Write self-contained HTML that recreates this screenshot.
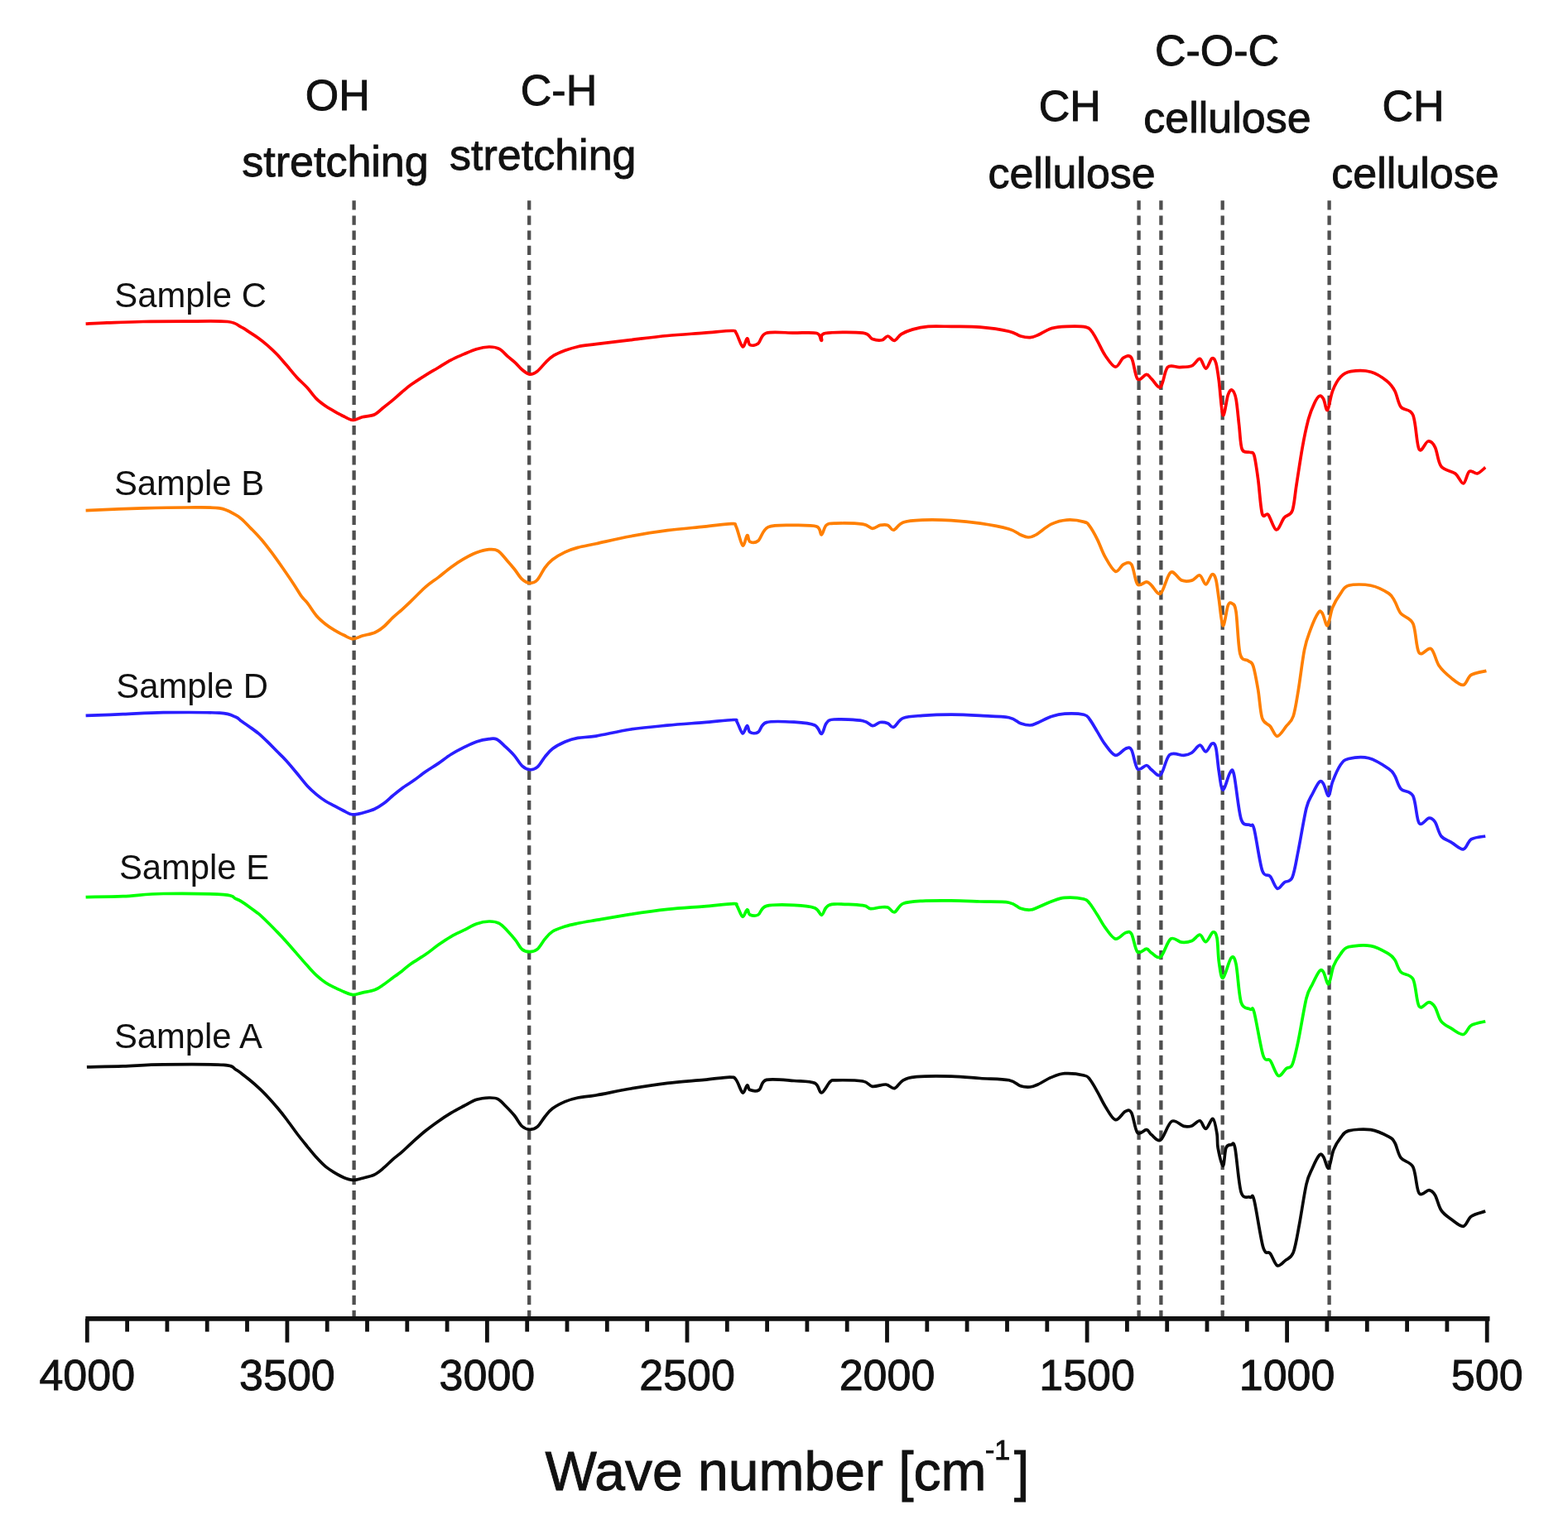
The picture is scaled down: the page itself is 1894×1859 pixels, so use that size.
<!DOCTYPE html>
<html><head><meta charset="utf-8"><title>FTIR spectra</title>
<style>
html,body{margin:0;padding:0;background:#fff;}
body{width:1894px;height:1859px;overflow:hidden;}
svg{display:block;}
text{font-family:"Liberation Sans",Arial,sans-serif;fill:#111;}
.b{stroke:#111;stroke-width:0.9px;}
</style></head><body>
<svg width="1894" height="1859" viewBox="0 0 1894 1859">
<rect width="1894" height="1859" fill="#fff"/>

<line x1="427.6" y1="242.3" x2="427.6" y2="1592.8" stroke="#4f4f4f" stroke-width="4.3" stroke-dasharray="11.3 6.815"/>
<line x1="639.2" y1="242.3" x2="639.2" y2="1592.8" stroke="#4f4f4f" stroke-width="4.3" stroke-dasharray="11.3 6.815"/>
<line x1="1375.6" y1="242.3" x2="1375.6" y2="1592.8" stroke="#4f4f4f" stroke-width="4.3" stroke-dasharray="11.3 6.815"/>
<line x1="1402.4" y1="242.3" x2="1402.4" y2="1592.8" stroke="#4f4f4f" stroke-width="4.3" stroke-dasharray="11.3 6.815"/>
<line x1="1476.7" y1="242.3" x2="1476.7" y2="1592.8" stroke="#4f4f4f" stroke-width="4.3" stroke-dasharray="11.3 6.815"/>
<line x1="1605.6" y1="242.3" x2="1605.6" y2="1592.8" stroke="#4f4f4f" stroke-width="4.3" stroke-dasharray="11.3 6.815"/>
<path fill="none" stroke="#ff0000" stroke-width="3.7" stroke-linejoin="round" d="M103.6,391.1C107.8,390.9 117.5,390.3 129.1,389.9C140.7,389.5 157.5,388.8 172.9,388.5C188.3,388.2 204.4,388.2 221.4,388.2C238.4,388.2 263.2,387.3 274.9,388.5C286.6,389.7 287.1,393.1 291.5,395.2C295.9,397.3 297.7,398.9 301.1,401.1C304.6,403.3 308.5,405.8 312.2,408.5C315.9,411.2 319.6,414.1 323.3,417.3C327.0,420.5 330.6,423.9 334.3,427.7C338.0,431.5 341.4,435.7 345.4,440.3C349.4,444.9 354.0,450.7 358.2,455.4C362.5,460.1 367.1,463.9 371.1,468.3C375.1,472.7 378.5,477.9 382.2,481.6C385.9,485.3 389.6,487.9 393.3,490.5C397.0,493.1 400.6,495.0 404.3,497.1C408.0,499.2 411.7,501.3 415.4,503.0C419.1,504.7 422.8,507.4 426.5,507.5C430.2,507.6 433.3,504.9 437.6,503.8C441.9,502.7 448.1,502.8 452.4,500.8C456.7,498.8 459.8,494.9 463.5,492.0C467.2,489.1 470.9,486.2 474.6,483.1C478.3,480.0 481.9,476.6 485.6,473.5C489.3,470.4 491.9,468.0 496.7,464.6C501.5,461.2 508.7,456.5 514.2,453.1C519.7,449.7 524.4,447.1 529.5,444.0C534.6,440.9 539.7,437.5 544.8,434.8C549.9,432.1 555.0,430.1 560.1,427.9C565.2,425.7 570.4,423.2 575.5,421.7C580.6,420.2 586.2,419.1 590.8,419.0C595.4,418.9 599.2,419.4 603.0,421.4C606.8,423.4 610.4,428.0 613.7,430.9C617.0,433.8 620.1,436.0 622.9,438.6C625.7,441.2 627.8,444.2 630.6,446.5C633.4,448.8 636.7,451.8 639.8,452.1C642.9,452.4 645.7,451.0 649.0,448.5C652.3,446.0 656.4,440.3 659.7,437.1C663.0,433.9 665.1,431.7 668.9,429.4C672.7,427.1 677.8,425.1 682.6,423.3C687.5,421.5 691.8,420.0 698.0,418.7C704.2,417.4 709.4,417.0 720.0,415.6C730.6,414.2 747.4,412.3 761.7,410.6C776.1,408.9 791.3,406.9 806.1,405.5C820.9,404.1 837.5,403.2 850.4,402.2C863.3,401.2 877.2,399.5 883.7,399.5C890.2,399.5 887.0,399.0 889.2,402.2C891.4,405.4 894.8,417.7 897.0,418.8C899.2,419.9 901.0,409.2 902.5,408.8C904.0,408.4 903.7,415.6 905.9,416.6C908.1,417.6 912.5,417.4 915.8,415.0C919.1,412.6 918.6,404.3 925.8,402.2C933.0,400.1 949.0,402.1 959.1,402.2C969.2,402.2 981.0,401.0 986.5,402.5C992.0,404.0 990.6,411.3 992.3,411.3C994.0,411.3 988.6,404.0 996.9,402.5C1005.2,401.0 1032.7,400.9 1042.2,402.1C1051.7,403.3 1049.9,408.1 1053.8,409.5C1057.7,410.9 1062.3,411.3 1065.4,410.7C1068.5,410.1 1069.9,405.9 1072.4,406.0C1074.9,406.1 1077.8,411.7 1080.5,411.3C1083.2,410.9 1085.0,405.9 1088.7,403.7C1092.4,401.5 1097.2,399.4 1102.6,397.9C1108.0,396.3 1113.5,395.0 1121.2,394.4C1128.9,393.8 1138.5,394.3 1149.0,394.4C1159.5,394.5 1172.3,394.1 1183.9,395.1C1195.5,396.1 1210.6,398.4 1218.7,400.2C1226.8,402.0 1228.4,404.8 1232.7,406.0C1237.0,407.2 1240.8,407.8 1244.3,407.6C1247.8,407.4 1249.3,406.6 1253.6,404.8C1257.8,403.0 1264.0,398.4 1269.8,396.7C1275.6,395.0 1281.4,394.7 1288.4,394.4C1295.4,394.1 1306.7,394.1 1311.7,395.1C1316.7,396.1 1316.3,397.4 1318.6,400.2C1320.9,403.0 1322.9,407.0 1325.6,411.8C1328.3,416.6 1331.3,424.0 1334.9,429.2C1338.5,434.4 1343.6,442.7 1347.3,443.2C1351.0,443.7 1353.8,434.0 1357.0,432.2C1360.2,430.4 1363.9,427.9 1366.7,432.2C1369.5,436.4 1371.0,454.3 1374.0,457.7C1377.0,461.1 1382.1,452.4 1384.9,452.4C1387.7,452.4 1388.2,455.2 1391.0,457.7C1393.8,460.2 1398.7,469.8 1401.9,467.4C1405.1,465.0 1406.6,447.6 1410.4,443.6C1414.2,439.6 1420.1,443.9 1425.0,443.6C1429.9,443.3 1435.5,443.6 1439.6,441.9C1443.6,440.2 1446.5,432.9 1449.3,433.4C1452.1,433.9 1454.2,445.2 1456.6,445.1C1459.0,445.0 1461.9,434.0 1463.9,432.9C1465.9,431.8 1467.3,433.8 1468.7,438.3C1470.1,442.9 1471.0,449.7 1472.4,460.2C1473.8,470.7 1475.4,498.6 1477.2,501.4C1479.0,504.2 1481.5,482.2 1483.3,477.2C1485.1,472.1 1486.6,470.3 1488.2,471.1C1489.8,471.9 1491.6,474.9 1493.0,482.0C1494.4,489.1 1495.5,503.5 1496.7,513.6C1497.9,523.7 1498.1,537.2 1500.3,542.7C1502.5,548.2 1507.6,545.2 1510.0,546.4C1512.4,547.6 1513.3,544.5 1514.9,550.0C1516.5,555.5 1518.1,567.5 1519.7,579.2C1521.3,591.0 1522.6,613.4 1524.6,620.5C1526.6,627.6 1529.1,618.5 1531.9,621.7C1534.7,624.9 1538.4,639.3 1541.6,639.9C1544.8,640.5 1548.1,629.1 1551.3,625.3C1554.5,621.4 1558.6,623.3 1561.0,616.8C1563.4,610.3 1563.9,599.2 1565.9,586.5C1567.9,573.8 1570.8,553.7 1573.2,540.3C1575.6,526.9 1578.1,515.2 1580.5,506.3C1582.9,497.4 1585.6,491.5 1587.8,486.9C1590.0,482.2 1592.0,479.2 1593.8,478.4C1595.6,477.6 1597.1,479.2 1598.7,482.0C1600.3,484.8 1601.7,497.0 1603.5,495.4C1605.3,493.8 1607.0,479.0 1609.6,472.3C1612.2,465.6 1615.6,459.2 1619.3,455.3C1623.0,451.4 1625.4,449.7 1631.5,448.7C1637.6,447.7 1648.5,447.3 1655.8,449.2C1663.1,451.1 1670.3,456.3 1675.2,460.2C1680.1,464.1 1682.1,467.1 1684.9,472.3C1687.7,477.6 1688.6,486.9 1692.2,491.7C1695.8,496.5 1703.2,492.9 1706.8,501.4C1710.4,509.9 1711.1,537.4 1714.1,542.7C1717.1,548.0 1721.8,533.4 1725.0,533.0C1728.2,532.6 1730.9,535.2 1733.5,540.3C1736.1,545.4 1736.8,558.1 1740.8,563.4C1744.8,568.7 1753.3,568.5 1757.8,571.9C1762.2,575.3 1764.7,584.4 1767.5,584.0C1770.3,583.6 1772.0,571.5 1774.8,569.5C1777.6,567.5 1781.3,572.7 1784.5,571.9C1787.7,571.1 1792.6,565.8 1794.2,564.6"/>
<path fill="none" stroke="#ff7f00" stroke-width="3.7" stroke-linejoin="round" d="M103.6,616.6C115.1,616.1 152.4,614.5 172.9,613.9C193.4,613.3 210.9,613.0 226.3,613.0C241.7,613.0 255.5,612.4 265.2,613.9C274.9,615.4 280.2,619.7 284.6,621.9C289.0,624.1 288.6,624.2 291.7,626.9C294.8,629.6 298.9,634.0 302.9,638.1C306.9,642.2 311.5,646.8 315.8,651.8C320.1,656.8 324.4,662.5 328.7,668.2C333.0,674.0 337.3,680.1 341.6,686.3C345.9,692.5 350.7,699.5 354.5,705.2C358.3,710.9 361.6,716.9 364.4,720.7C367.2,724.5 368.1,724.3 371.1,728.1C374.1,731.9 378.5,739.4 382.2,743.7C385.9,748.0 389.6,751.0 393.3,754.0C397.0,757.0 400.6,759.2 404.3,761.4C408.0,763.6 411.7,765.6 415.4,767.3C419.1,769.0 422.8,771.6 426.5,771.7C430.2,771.8 433.3,769.2 437.6,768.0C441.9,766.8 448.1,766.1 452.4,764.3C456.7,762.5 459.8,760.1 463.5,757.0C467.2,753.9 470.9,749.4 474.6,745.9C478.3,742.4 481.9,739.6 485.6,736.3C489.3,733.0 491.9,730.5 496.7,725.9C501.5,721.3 508.7,713.6 514.2,708.9C519.7,704.1 524.4,701.3 529.5,697.4C534.6,693.5 539.7,688.9 544.8,685.2C549.9,681.5 555.0,678.1 560.1,675.2C565.2,672.3 570.4,669.5 575.5,667.6C580.6,665.7 586.5,664.1 590.8,663.7C595.1,663.3 597.9,663.1 601.5,665.3C605.1,667.5 608.9,673.0 612.2,676.7C615.5,680.4 618.3,683.7 621.4,687.5C624.5,691.3 627.5,696.9 630.6,699.7C633.7,702.5 636.7,704.2 639.8,704.3C642.9,704.4 646.0,703.6 649.0,700.5C652.0,697.4 655.1,690.0 658.1,685.9C661.1,681.8 663.2,679.2 667.3,676.0C671.4,672.8 677.5,669.2 682.6,666.8C687.7,664.4 691.8,663.1 698.0,661.4C704.2,659.7 709.4,659.1 720.0,656.8C730.6,654.5 747.4,650.4 761.7,647.7C776.1,645.0 791.3,642.5 806.1,640.6C820.9,638.7 837.5,637.5 850.4,636.2C863.3,634.9 877.2,632.6 883.7,632.6C890.2,632.6 887.0,631.8 889.2,636.2C891.4,640.6 894.8,657.1 897.0,658.8C899.2,660.5 901.0,647.4 902.5,646.6C904.0,645.9 903.7,653.2 905.9,654.3C908.1,655.4 912.1,656.2 915.8,653.2C919.5,650.2 920.8,639.7 928.0,636.6C935.2,633.5 949.4,634.5 959.1,634.4C968.9,634.3 981.0,634.1 986.5,636.0C992.0,637.9 990.4,646.3 992.3,646.0C994.2,645.7 995.2,636.7 998.1,634.4C1001.0,632.1 1002.4,632.3 1009.7,632.1C1017.1,631.9 1034.9,632.2 1042.2,633.2C1049.5,634.2 1050.3,638.1 1053.8,638.3C1057.3,638.5 1060.0,635.0 1063.1,634.4C1066.2,633.8 1069.7,633.4 1072.4,634.4C1075.1,635.4 1076.3,640.8 1079.4,640.2C1082.5,639.6 1085.2,632.9 1091.0,630.9C1096.8,628.9 1104.5,628.5 1114.2,628.1C1123.9,627.7 1137.4,627.9 1149.0,628.6C1160.6,629.3 1172.3,630.4 1183.9,632.1C1195.5,633.8 1210.6,636.7 1218.7,639.0C1226.8,641.3 1228.8,644.3 1232.7,646.0C1236.6,647.7 1238.9,649.0 1242.0,649.0C1245.1,649.0 1246.7,648.6 1251.3,646.0C1255.9,643.4 1263.6,636.2 1269.8,633.2C1276.0,630.2 1281.8,628.6 1288.4,628.1C1295.0,627.6 1304.7,629.1 1309.3,630.4C1313.9,631.6 1313.6,632.0 1316.3,635.6C1319.0,639.2 1322.5,645.6 1325.6,651.8C1328.7,658.0 1331.3,666.3 1334.9,672.7C1338.5,679.1 1343.6,688.7 1347.3,690.2C1351.0,691.7 1353.8,683.1 1357.0,681.7C1360.2,680.3 1363.9,677.7 1366.7,681.7C1369.5,685.7 1371.0,702.4 1374.0,705.9C1377.0,709.4 1382.1,702.6 1384.9,702.8C1387.7,703.0 1388.2,704.9 1391.0,707.2C1393.8,709.6 1398.1,719.5 1401.9,716.9C1405.8,714.3 1409.8,694.0 1414.1,691.4C1418.3,688.8 1423.2,699.5 1427.4,701.1C1431.7,702.7 1435.9,702.1 1439.6,701.1C1443.2,700.1 1446.5,694.2 1449.3,695.0C1452.1,695.8 1454.2,706.1 1456.6,705.9C1459.0,705.7 1461.9,694.8 1463.9,693.8C1465.9,692.8 1467.3,694.8 1468.7,699.9C1470.1,705.0 1471.0,714.9 1472.4,724.2C1473.8,733.5 1475.4,754.5 1477.2,755.7C1479.0,756.9 1481.5,735.9 1483.3,731.4C1485.1,726.9 1486.6,727.8 1488.2,729.0C1489.8,730.2 1491.4,728.6 1493.0,738.7C1494.6,748.8 1495.5,779.8 1497.9,789.7C1500.3,799.6 1505.0,795.8 1507.6,798.2C1510.2,800.6 1511.7,798.4 1513.7,804.3C1515.7,810.2 1517.9,823.0 1519.7,833.5C1521.5,844.0 1522.2,860.2 1524.6,867.5C1527.0,874.8 1531.3,873.6 1534.3,877.2C1537.3,880.8 1539.6,889.3 1542.8,889.3C1546.0,889.3 1550.5,881.2 1553.7,877.2C1556.9,873.2 1559.8,872.3 1562.2,865.0C1564.6,857.7 1566.1,846.9 1568.3,833.5C1570.5,820.1 1573.2,797.0 1575.6,784.9C1578.0,772.8 1580.1,768.1 1582.9,760.6C1585.7,753.1 1590.2,743.1 1592.6,739.9C1595.0,736.7 1595.7,738.6 1597.5,741.2C1599.3,743.8 1601.5,756.9 1603.5,755.7C1605.5,754.5 1607.0,740.4 1609.6,733.9C1612.2,727.4 1616.1,721.3 1619.3,716.9C1622.5,712.5 1622.9,708.8 1629.0,707.2C1635.1,705.6 1647.7,705.6 1655.8,707.2C1663.9,708.8 1672.8,713.7 1677.6,716.9C1682.4,720.1 1682.5,722.5 1684.9,726.6C1687.3,730.7 1688.6,736.8 1692.2,741.2C1695.8,745.7 1703.2,745.4 1706.8,753.3C1710.4,761.2 1710.5,783.4 1714.1,788.5C1717.7,793.6 1724.6,781.1 1728.6,783.7C1732.6,786.3 1734.2,798.4 1738.3,804.3C1742.3,810.2 1748.0,815.0 1752.9,818.9C1757.8,822.8 1763.5,828.0 1767.5,827.4C1771.5,826.8 1772.5,818.0 1777.2,815.2C1781.9,812.4 1792.4,811.2 1795.4,810.4"/>
<path fill="none" stroke="#2a1eff" stroke-width="3.7" stroke-linejoin="round" d="M103.6,864.4C111.1,864.1 133.0,863.3 148.6,862.7C164.2,862.1 177.8,861.0 197.2,860.7C216.6,860.5 250.6,860.3 265.2,861.2C279.8,862.1 280.2,864.5 284.6,866.1C289.0,867.8 288.8,869.2 291.5,871.1C294.2,873.0 297.7,875.2 301.1,877.7C304.6,880.2 308.5,882.8 312.2,885.9C315.9,889.0 319.6,892.6 323.3,896.2C327.0,899.8 330.6,903.6 334.3,907.3C338.0,911.0 341.4,914.0 345.4,918.4C349.4,922.8 354.0,928.3 358.2,933.5C362.5,938.6 367.1,944.8 371.1,949.2C375.1,953.6 378.5,956.5 382.2,959.6C385.9,962.7 389.6,965.4 393.3,967.7C397.0,970.0 400.6,971.6 404.3,973.6C408.0,975.6 412.3,977.9 415.4,979.5C418.5,981.1 420.3,982.5 422.8,983.2C425.3,983.9 427.1,984.0 430.2,983.6C433.3,983.2 437.6,982.0 441.3,981.0C445.0,980.0 448.7,979.0 452.4,977.3C456.1,975.6 459.8,973.3 463.5,970.6C467.2,967.9 470.9,964.1 474.6,961.0C478.3,957.9 481.4,955.3 485.6,952.2C489.8,949.1 495.2,946.0 500.0,942.6C504.8,939.2 509.3,935.4 514.2,932.0C519.1,928.6 524.4,925.6 529.5,922.1C534.6,918.6 539.7,914.5 544.8,911.3C549.9,908.1 555.0,905.4 560.1,902.9C565.2,900.4 570.4,897.7 575.5,896.0C580.6,894.3 586.7,893.2 590.8,892.7C594.9,892.2 596.7,891.4 600.0,893.0C603.3,894.6 607.1,898.9 610.7,902.2C614.3,905.5 618.1,909.1 621.4,912.9C624.7,916.7 627.5,922.3 630.6,925.1C633.7,927.9 636.7,929.4 639.8,929.7C642.9,930.0 646.0,929.2 649.0,926.7C652.0,924.2 655.1,918.1 658.1,914.4C661.1,910.7 663.2,907.6 667.3,904.5C671.4,901.4 677.5,898.2 682.6,896.0C687.7,893.8 691.8,892.5 698.0,891.4C704.2,890.2 709.4,890.8 720.0,889.1C730.6,887.4 747.4,883.1 761.7,881.0C776.1,878.9 791.3,877.6 806.1,876.2C820.9,874.8 837.1,873.7 850.4,872.6C863.7,871.5 879.2,869.6 885.9,869.5C892.5,869.4 888.4,869.5 890.3,872.2C892.1,874.9 895.0,885.2 897.0,885.9C899.0,886.6 901.0,876.9 902.5,876.6C904.0,876.4 903.7,883.1 905.9,884.4C908.1,885.7 912.5,886.4 915.8,884.4C919.1,882.4 918.6,874.6 925.8,872.6C933.0,870.6 949.4,871.6 959.1,872.2C968.8,872.8 978.6,873.6 984.1,876.0C989.6,878.4 990.0,886.9 992.3,886.5C994.6,886.1 995.6,876.6 998.1,873.7C1000.6,870.8 1000.0,869.5 1007.4,869.0C1014.8,868.5 1034.5,869.4 1042.2,870.7C1049.9,872.0 1050.3,876.4 1053.8,876.7C1057.3,877.0 1060.0,873.0 1063.1,872.5C1066.2,872.0 1069.7,872.7 1072.4,873.7C1075.1,874.7 1076.3,879.3 1079.4,878.3C1082.5,877.2 1085.2,869.7 1091.0,867.4C1096.8,865.1 1104.5,865.1 1114.2,864.4C1123.9,863.7 1137.4,863.2 1149.0,863.2C1160.6,863.2 1172.3,863.8 1183.9,864.4C1195.5,865.0 1210.6,865.2 1218.7,866.7C1226.8,868.2 1228.4,872.2 1232.7,873.7C1237.0,875.2 1240.8,876.1 1244.3,876.0C1247.8,875.9 1249.3,874.7 1253.6,873.0C1257.8,871.3 1264.4,867.4 1269.8,865.6C1275.2,863.8 1279.5,862.5 1286.1,862.1C1292.7,861.7 1304.3,862.1 1309.3,863.2C1314.3,864.4 1313.6,865.5 1316.3,869.0C1319.0,872.5 1322.5,879.1 1325.6,884.1C1328.7,889.1 1331.3,894.5 1334.9,899.2C1338.5,903.9 1343.2,911.5 1347.3,912.4C1351.4,913.3 1356.2,905.5 1359.4,904.4C1362.6,903.3 1364.3,901.5 1366.7,905.6C1369.1,909.7 1371.0,925.6 1374.0,928.7C1377.0,931.9 1382.1,924.3 1384.9,924.5C1387.7,924.7 1388.2,928.0 1391.0,929.9C1393.8,931.8 1398.2,938.9 1401.9,935.9C1405.6,932.9 1408.2,915.6 1412.9,911.7C1417.6,907.8 1425.5,912.8 1429.9,912.4C1434.4,912.0 1436.4,911.2 1439.6,909.2C1442.8,907.2 1446.5,900.4 1449.3,900.2C1452.1,900.0 1454.2,908.3 1456.6,908.0C1459.0,907.7 1461.9,899.1 1463.9,898.3C1465.9,897.5 1467.3,897.5 1468.7,903.2C1470.1,908.9 1471.0,923.8 1472.4,932.3C1473.8,940.8 1475.0,954.0 1477.2,954.2C1479.4,954.4 1483.5,936.5 1485.7,933.5C1487.9,930.5 1488.4,926.6 1490.6,935.9C1492.8,945.2 1495.9,979.3 1499.1,989.4C1502.3,999.5 1507.4,994.7 1510.0,996.7C1512.6,998.7 1512.5,992.4 1514.9,1001.5C1517.3,1010.6 1521.4,1041.8 1524.6,1051.3C1527.8,1060.8 1531.3,1054.9 1534.3,1058.6C1537.3,1062.2 1540.0,1072.0 1542.8,1073.2C1545.6,1074.4 1548.3,1068.1 1551.3,1065.9C1554.3,1063.7 1558.2,1066.3 1561.0,1059.8C1563.8,1053.3 1565.5,1041.0 1568.3,1027.0C1571.1,1013.0 1575.2,987.3 1578.0,976.0C1580.8,964.7 1582.7,964.3 1585.3,959.0C1587.9,953.7 1591.6,946.4 1593.8,944.4C1596.0,942.4 1596.9,944.1 1598.7,946.9C1600.5,949.7 1603.0,961.8 1604.8,961.4C1606.6,961.0 1607.2,950.7 1609.6,944.4C1612.0,938.1 1616.1,928.4 1619.3,923.8C1622.5,919.1 1623.3,917.8 1629.0,916.5C1634.7,915.2 1645.2,913.8 1653.3,915.8C1661.4,917.8 1672.3,925.1 1677.6,928.7C1682.9,932.3 1682.5,933.2 1684.9,937.2C1687.3,941.2 1688.6,948.9 1692.2,952.9C1695.8,956.9 1703.2,954.5 1706.8,961.4C1710.4,968.3 1710.9,989.7 1714.1,994.2C1717.3,998.7 1723.0,988.4 1726.2,988.2C1729.4,988.0 1731.1,989.4 1733.5,993.0C1735.9,996.6 1737.6,1006.0 1740.8,1010.0C1744.0,1014.0 1748.5,1014.7 1752.9,1017.3C1757.4,1019.9 1763.5,1026.4 1767.5,1025.8C1771.5,1025.2 1772.8,1016.3 1777.2,1013.7C1781.7,1011.1 1791.4,1010.6 1794.2,1010.0"/>
<path fill="none" stroke="#00ff00" stroke-width="3.7" stroke-linejoin="round" d="M103.6,1083.6C111.1,1083.4 133.0,1083.4 148.6,1082.7C164.2,1082.0 177.0,1079.8 197.2,1079.5C217.4,1079.2 255.4,1079.7 270.0,1080.7C284.6,1081.7 281.0,1084.2 284.6,1085.6C288.2,1087.0 288.8,1087.2 291.5,1088.9C294.2,1090.6 297.7,1093.0 301.1,1095.5C304.6,1098.0 308.5,1100.6 312.2,1103.7C315.9,1106.8 319.6,1110.4 323.3,1114.0C327.0,1117.6 330.6,1121.3 334.3,1125.1C338.0,1128.9 341.4,1132.5 345.4,1136.9C349.4,1141.3 354.0,1146.7 358.2,1151.6C362.5,1156.5 367.1,1161.9 371.1,1166.3C375.1,1170.7 378.5,1174.6 382.2,1178.1C385.9,1181.5 389.6,1184.5 393.3,1187.0C397.0,1189.5 400.6,1191.1 404.3,1192.9C408.0,1194.7 411.7,1196.5 415.4,1198.0C419.1,1199.5 422.8,1201.5 426.5,1201.7C430.2,1201.9 433.3,1200.1 437.6,1199.1C441.9,1198.1 448.1,1197.4 452.4,1195.8C456.7,1194.2 459.8,1191.7 463.5,1189.2C467.2,1186.7 470.9,1183.7 474.6,1181.0C478.3,1178.3 481.9,1175.7 485.6,1172.9C489.3,1170.1 491.9,1167.3 496.7,1164.0C501.5,1160.7 508.7,1156.6 514.2,1152.8C519.7,1149.0 524.4,1144.9 529.5,1141.3C534.6,1137.7 539.7,1134.2 544.8,1131.3C549.9,1128.4 555.0,1126.2 560.1,1123.7C565.2,1121.2 570.4,1117.8 575.5,1116.0C580.6,1114.2 586.2,1113.1 590.8,1113.0C595.4,1112.9 599.2,1113.3 603.0,1115.3C606.8,1117.3 610.4,1121.8 613.7,1125.2C617.0,1128.6 620.1,1132.3 622.9,1135.9C625.7,1139.5 627.8,1144.4 630.6,1146.7C633.4,1149.0 636.7,1149.7 639.8,1149.7C642.9,1149.7 646.0,1149.2 649.0,1146.7C652.0,1144.2 655.1,1138.0 658.1,1134.4C661.1,1130.8 663.2,1127.8 667.3,1125.2C671.4,1122.7 677.5,1120.8 682.6,1119.1C687.7,1117.4 691.8,1116.6 698.0,1115.3C704.2,1114.0 709.4,1113.2 720.0,1111.4C730.6,1109.6 747.4,1106.6 761.7,1104.4C776.1,1102.2 791.3,1100.0 806.1,1098.4C820.9,1096.8 837.1,1095.9 850.4,1094.8C863.7,1093.7 879.2,1091.8 885.9,1091.7C892.5,1091.6 888.4,1091.8 890.3,1094.4C892.1,1097.0 895.0,1106.6 897.0,1107.3C899.0,1108.0 901.0,1099.2 902.5,1098.8C904.0,1098.4 903.7,1104.0 905.9,1105.0C908.1,1106.0 912.5,1106.8 915.8,1105.0C919.1,1103.2 918.6,1096.4 925.8,1094.4C933.0,1092.5 949.4,1092.9 959.1,1093.3C968.8,1093.7 978.6,1094.7 984.1,1096.7C989.6,1098.7 990.0,1105.4 992.3,1105.3C994.6,1105.2 995.6,1098.2 998.1,1096.0C1000.6,1093.8 1000.0,1092.5 1007.4,1092.1C1014.8,1091.7 1034.9,1092.8 1042.2,1093.7C1049.5,1094.6 1048.0,1097.2 1051.5,1097.6C1055.0,1098.0 1059.6,1096.3 1063.1,1096.0C1066.6,1095.7 1069.5,1095.0 1072.4,1096.0C1075.3,1097.0 1077.4,1102.6 1080.5,1101.8C1083.6,1101.0 1085.4,1093.7 1091.0,1091.4C1096.6,1089.2 1104.5,1088.9 1114.2,1088.3C1123.9,1087.7 1137.4,1087.8 1149.0,1087.9C1160.6,1088.0 1172.3,1088.6 1183.9,1089.0C1195.5,1089.4 1210.6,1088.8 1218.7,1090.2C1226.8,1091.6 1228.4,1095.7 1232.7,1097.2C1237.0,1098.7 1240.8,1099.2 1244.3,1099.0C1247.8,1098.8 1249.3,1097.7 1253.6,1096.0C1257.8,1094.3 1264.4,1090.9 1269.8,1089.0C1275.2,1087.1 1279.5,1084.9 1286.1,1084.4C1292.7,1083.9 1304.3,1084.8 1309.3,1086.0C1314.3,1087.2 1313.6,1088.2 1316.3,1091.4C1319.0,1094.6 1322.5,1100.5 1325.6,1105.3C1328.7,1110.1 1331.3,1115.6 1334.9,1120.4C1338.5,1125.2 1343.2,1133.0 1347.3,1134.1C1351.4,1135.2 1356.2,1127.8 1359.4,1126.8C1362.6,1125.8 1364.3,1124.2 1366.7,1128.0C1369.1,1131.8 1371.0,1146.9 1374.0,1149.9C1377.0,1152.9 1382.1,1146.0 1384.9,1146.2C1387.7,1146.4 1388.2,1149.5 1391.0,1151.1C1393.8,1152.7 1398.1,1158.7 1401.9,1155.9C1405.8,1153.1 1409.8,1137.0 1414.1,1134.1C1418.3,1131.1 1423.2,1137.8 1427.4,1138.2C1431.7,1138.6 1435.9,1138.0 1439.6,1136.5C1443.2,1135.0 1446.5,1129.0 1449.3,1129.2C1452.1,1129.4 1454.0,1138.2 1456.6,1137.7C1459.2,1137.2 1462.9,1126.9 1465.1,1126.1C1467.3,1125.3 1468.8,1126.9 1470.0,1132.9C1471.2,1138.9 1471.2,1153.9 1472.4,1162.0C1473.6,1170.1 1474.8,1182.2 1477.2,1181.4C1479.6,1180.6 1484.4,1160.0 1487.0,1157.2C1489.6,1154.4 1491.0,1155.5 1493.0,1164.4C1495.0,1173.3 1496.3,1201.5 1499.1,1210.6C1501.9,1219.7 1507.4,1217.1 1510.0,1219.1C1512.6,1221.1 1512.3,1213.4 1514.9,1222.7C1517.5,1232.0 1522.6,1265.3 1525.8,1275.0C1529.0,1284.7 1531.3,1277.0 1534.3,1281.0C1537.3,1285.0 1540.8,1297.7 1544.0,1299.3C1547.2,1300.9 1550.9,1292.9 1553.7,1290.7C1556.5,1288.5 1558.6,1291.6 1561.0,1285.9C1563.4,1280.2 1565.5,1270.1 1568.3,1256.7C1571.1,1243.3 1575.2,1217.0 1578.0,1205.7C1580.8,1194.4 1582.7,1194.2 1585.3,1188.7C1587.9,1183.2 1591.6,1175.3 1593.8,1172.9C1596.0,1170.5 1596.9,1171.6 1598.7,1174.2C1600.5,1176.8 1602.8,1189.9 1604.8,1188.7C1606.8,1187.5 1608.4,1173.0 1610.8,1166.9C1613.2,1160.8 1616.3,1156.2 1619.3,1152.3C1622.3,1148.4 1622.9,1145.4 1629.0,1143.8C1635.1,1142.2 1647.7,1141.2 1655.8,1142.6C1663.9,1144.0 1672.8,1149.5 1677.6,1152.3C1682.4,1155.1 1682.5,1155.9 1684.9,1159.6C1687.3,1163.2 1688.6,1170.3 1692.2,1174.2C1695.8,1178.1 1703.2,1175.8 1706.8,1182.7C1710.4,1189.6 1710.9,1210.8 1714.1,1215.5C1717.3,1220.2 1723.0,1210.4 1726.2,1210.6C1729.4,1210.8 1731.1,1212.8 1733.5,1216.7C1735.9,1220.6 1737.6,1229.5 1740.8,1233.7C1744.0,1238.0 1748.5,1239.6 1752.9,1242.2C1757.4,1244.8 1763.5,1250.1 1767.5,1249.5C1771.5,1248.9 1772.8,1241.1 1777.2,1238.5C1781.7,1235.9 1791.4,1234.5 1794.2,1233.7"/>
<path fill="none" stroke="#080808" stroke-width="3.7" stroke-linejoin="round" d="M104.9,1288.8C112.2,1288.6 133.2,1288.3 148.6,1287.8C164.0,1287.3 177.0,1286.1 197.2,1285.9C217.4,1285.7 255.4,1285.4 270.0,1286.4C284.6,1287.4 280.9,1290.1 284.6,1291.9C288.3,1293.7 289.5,1295.1 292.3,1297.2C295.1,1299.3 297.9,1301.5 301.3,1304.3C304.7,1307.1 308.8,1310.6 312.6,1314.1C316.4,1317.6 320.1,1321.4 323.9,1325.4C327.7,1329.4 331.4,1333.7 335.2,1338.2C339.0,1342.7 342.6,1347.3 346.5,1352.5C350.4,1357.7 354.8,1364.1 358.9,1369.5C363.0,1374.9 367.2,1380.0 371.1,1384.8C375.0,1389.6 378.5,1394.0 382.2,1398.1C385.9,1402.2 389.6,1406.1 393.3,1409.2C397.0,1412.3 400.6,1414.4 404.3,1416.6C408.0,1418.8 411.7,1421.0 415.4,1422.5C419.1,1424.0 422.8,1425.3 426.5,1425.4C430.2,1425.5 433.3,1424.3 437.6,1423.2C441.9,1422.1 448.1,1420.9 452.4,1418.8C456.7,1416.7 459.8,1413.8 463.5,1410.7C467.2,1407.6 470.9,1403.5 474.6,1400.3C478.3,1397.1 481.9,1394.6 485.6,1391.4C489.3,1388.2 491.9,1385.4 496.7,1381.1C501.5,1376.8 508.7,1370.2 514.2,1365.8C519.7,1361.3 524.4,1358.0 529.5,1354.4C534.6,1350.8 539.7,1347.5 544.8,1344.4C549.9,1341.3 555.0,1338.7 560.1,1336.0C565.2,1333.3 570.4,1330.0 575.5,1328.3C580.6,1326.6 586.5,1326.1 590.8,1326.0C595.1,1325.9 598.2,1325.9 601.5,1327.6C604.8,1329.3 607.4,1332.7 610.7,1336.0C614.0,1339.3 618.1,1343.4 621.4,1347.5C624.7,1351.6 627.5,1357.7 630.6,1360.5C633.7,1363.3 636.7,1364.2 639.8,1364.3C642.9,1364.4 646.0,1363.8 649.0,1361.2C652.0,1358.7 655.1,1352.7 658.1,1349.0C661.1,1345.3 663.2,1342.1 667.3,1339.0C671.4,1335.9 677.5,1332.8 682.6,1330.6C687.7,1328.4 691.8,1327.3 698.0,1326.0C704.2,1324.7 709.4,1324.8 720.0,1323.0C730.6,1321.2 747.4,1317.4 761.7,1315.0C776.1,1312.6 791.3,1310.2 806.1,1308.4C820.9,1306.6 837.8,1305.6 850.4,1304.4C863.0,1303.2 875.0,1301.1 881.5,1301.1C888.0,1301.1 886.6,1301.3 889.2,1304.4C891.8,1307.5 894.8,1318.8 897.0,1319.9C899.2,1321.0 901.0,1311.5 902.5,1311.0C904.0,1310.5 903.5,1315.7 905.9,1316.6C908.3,1317.5 913.6,1318.6 916.9,1316.6C920.2,1314.6 918.8,1306.2 925.8,1304.4C932.8,1302.6 949.4,1304.8 959.1,1305.5C968.8,1306.2 978.6,1305.9 984.1,1308.3C989.6,1310.7 989.2,1320.2 992.3,1319.9C995.4,1319.6 999.8,1309.2 1002.7,1306.7C1005.6,1304.2 1003.1,1304.9 1009.7,1304.8C1016.3,1304.7 1034.9,1304.8 1042.2,1306.0C1049.5,1307.2 1049.2,1311.6 1053.8,1312.3C1058.4,1313.0 1065.6,1309.6 1070.1,1310.0C1074.5,1310.4 1077.0,1315.5 1080.5,1314.6C1084.0,1313.7 1086.5,1307.1 1091.0,1304.8C1095.5,1302.5 1097.5,1301.5 1107.2,1300.7C1116.9,1299.9 1136.2,1299.9 1149.0,1300.2C1161.8,1300.5 1172.3,1301.7 1183.9,1302.5C1195.5,1303.3 1210.6,1303.2 1218.7,1304.8C1226.8,1306.3 1228.4,1310.4 1232.7,1311.8C1237.0,1313.2 1240.8,1313.3 1244.3,1313.0C1247.8,1312.7 1249.3,1311.9 1253.6,1310.0C1257.8,1308.1 1264.4,1303.6 1269.8,1301.4C1275.2,1299.2 1279.5,1297.1 1286.1,1296.7C1292.7,1296.3 1304.3,1297.8 1309.3,1299.0C1314.3,1300.2 1313.6,1300.4 1316.3,1303.7C1319.0,1307.0 1322.5,1313.4 1325.6,1318.8C1328.7,1324.2 1331.3,1330.6 1334.9,1336.2C1338.5,1341.8 1343.2,1351.6 1347.3,1352.6C1351.4,1353.6 1356.2,1343.8 1359.4,1342.4C1362.6,1341.0 1364.3,1339.8 1366.7,1344.1C1369.1,1348.4 1371.0,1365.0 1374.0,1368.4C1377.0,1371.8 1382.1,1364.3 1384.9,1364.7C1387.7,1365.1 1388.2,1368.8 1391.0,1370.8C1393.8,1372.8 1397.9,1379.6 1401.9,1376.9C1406.0,1374.2 1410.6,1357.2 1415.3,1354.5C1420.0,1351.8 1425.9,1359.5 1429.9,1360.4C1434.0,1361.3 1436.4,1361.0 1439.6,1359.9C1442.8,1358.8 1446.5,1353.2 1449.3,1353.8C1452.1,1354.4 1454.0,1363.9 1456.6,1363.5C1459.2,1363.1 1462.9,1350.4 1465.1,1351.4C1467.3,1352.4 1469.0,1363.7 1470.0,1369.6C1471.0,1375.5 1470.0,1380.1 1471.2,1386.6C1472.4,1393.1 1475.6,1408.4 1477.2,1408.4C1478.8,1408.4 1479.3,1390.8 1480.9,1386.6C1482.5,1382.3 1485.2,1382.9 1487.0,1382.9C1488.8,1382.9 1489.8,1377.1 1491.8,1386.6C1493.8,1396.1 1496.1,1430.1 1499.1,1440.0C1502.1,1449.9 1507.4,1444.5 1510.0,1446.1C1512.6,1447.7 1512.3,1439.6 1514.9,1449.7C1517.5,1459.8 1522.6,1496.1 1525.8,1506.8C1529.0,1517.5 1531.5,1510.4 1534.3,1514.1C1537.1,1517.8 1539.8,1527.3 1542.8,1528.7C1545.8,1530.1 1549.3,1525.2 1552.5,1522.6C1555.7,1520.0 1559.4,1520.2 1562.2,1512.9C1565.0,1505.6 1566.9,1492.7 1569.5,1478.9C1572.1,1465.1 1575.4,1441.6 1578.0,1430.3C1580.6,1419.0 1582.7,1416.8 1585.3,1410.9C1587.9,1405.0 1591.6,1397.3 1593.8,1395.1C1596.0,1392.9 1596.9,1394.9 1598.7,1397.5C1600.5,1400.1 1602.8,1412.3 1604.8,1410.9C1606.8,1409.5 1608.4,1395.1 1610.8,1389.0C1613.2,1382.9 1616.3,1378.2 1619.3,1374.4C1622.3,1370.6 1622.9,1367.5 1629.0,1365.9C1635.1,1364.3 1647.7,1363.5 1655.8,1364.7C1663.9,1365.9 1672.8,1370.6 1677.6,1373.2C1682.4,1375.8 1682.5,1376.2 1684.9,1380.5C1687.3,1384.8 1688.6,1393.8 1692.2,1398.7C1695.8,1403.6 1703.2,1402.6 1706.8,1409.7C1710.4,1416.8 1710.9,1436.6 1714.1,1441.2C1717.3,1445.8 1723.0,1437.2 1726.2,1437.6C1729.4,1438.0 1731.1,1439.7 1733.5,1443.7C1735.9,1447.8 1737.6,1457.1 1740.8,1461.9C1744.0,1466.8 1748.5,1469.6 1752.9,1472.8C1757.4,1476.0 1763.5,1481.9 1767.5,1481.3C1771.5,1480.7 1772.8,1472.2 1777.2,1469.2C1781.7,1466.2 1791.4,1464.1 1794.2,1463.1"/>
<line x1="103.3" y1="1592.8" x2="1799.5" y2="1592.8" stroke="#111" stroke-width="5.8"/>
<line x1="105.3" y1="1592.8" x2="105.3" y2="1621.6" stroke="#111" stroke-width="4.8"/>
<text class="b" x="105.3" y="1679" font-size="52" text-anchor="middle">4000</text>
<line x1="153.6" y1="1592.8" x2="153.6" y2="1608.6" stroke="#111" stroke-width="4.8"/>
<line x1="201.9" y1="1592.8" x2="201.9" y2="1608.6" stroke="#111" stroke-width="4.8"/>
<line x1="250.2" y1="1592.8" x2="250.2" y2="1608.6" stroke="#111" stroke-width="4.8"/>
<line x1="298.5" y1="1592.8" x2="298.5" y2="1608.6" stroke="#111" stroke-width="4.8"/>
<line x1="346.9" y1="1592.8" x2="346.9" y2="1621.6" stroke="#111" stroke-width="4.8"/>
<text class="b" x="346.9" y="1679" font-size="52" text-anchor="middle">3500</text>
<line x1="395.2" y1="1592.8" x2="395.2" y2="1608.6" stroke="#111" stroke-width="4.8"/>
<line x1="443.5" y1="1592.8" x2="443.5" y2="1608.6" stroke="#111" stroke-width="4.8"/>
<line x1="491.8" y1="1592.8" x2="491.8" y2="1608.6" stroke="#111" stroke-width="4.8"/>
<line x1="540.1" y1="1592.8" x2="540.1" y2="1608.6" stroke="#111" stroke-width="4.8"/>
<line x1="588.4" y1="1592.8" x2="588.4" y2="1621.6" stroke="#111" stroke-width="4.8"/>
<text class="b" x="588.4" y="1679" font-size="52" text-anchor="middle">3000</text>
<line x1="636.7" y1="1592.8" x2="636.7" y2="1608.6" stroke="#111" stroke-width="4.8"/>
<line x1="685.0" y1="1592.8" x2="685.0" y2="1608.6" stroke="#111" stroke-width="4.8"/>
<line x1="733.3" y1="1592.8" x2="733.3" y2="1608.6" stroke="#111" stroke-width="4.8"/>
<line x1="781.7" y1="1592.8" x2="781.7" y2="1608.6" stroke="#111" stroke-width="4.8"/>
<line x1="830.0" y1="1592.8" x2="830.0" y2="1621.6" stroke="#111" stroke-width="4.8"/>
<text class="b" x="830.0" y="1679" font-size="52" text-anchor="middle">2500</text>
<line x1="878.3" y1="1592.8" x2="878.3" y2="1608.6" stroke="#111" stroke-width="4.8"/>
<line x1="926.6" y1="1592.8" x2="926.6" y2="1608.6" stroke="#111" stroke-width="4.8"/>
<line x1="974.9" y1="1592.8" x2="974.9" y2="1608.6" stroke="#111" stroke-width="4.8"/>
<line x1="1023.2" y1="1592.8" x2="1023.2" y2="1608.6" stroke="#111" stroke-width="4.8"/>
<line x1="1071.5" y1="1592.8" x2="1071.5" y2="1621.6" stroke="#111" stroke-width="4.8"/>
<text class="b" x="1071.5" y="1679" font-size="52" text-anchor="middle">2000</text>
<line x1="1119.8" y1="1592.8" x2="1119.8" y2="1608.6" stroke="#111" stroke-width="4.8"/>
<line x1="1168.1" y1="1592.8" x2="1168.1" y2="1608.6" stroke="#111" stroke-width="4.8"/>
<line x1="1216.5" y1="1592.8" x2="1216.5" y2="1608.6" stroke="#111" stroke-width="4.8"/>
<line x1="1264.8" y1="1592.8" x2="1264.8" y2="1608.6" stroke="#111" stroke-width="4.8"/>
<line x1="1313.1" y1="1592.8" x2="1313.1" y2="1621.6" stroke="#111" stroke-width="4.8"/>
<text class="b" x="1313.1" y="1679" font-size="52" text-anchor="middle">1500</text>
<line x1="1361.4" y1="1592.8" x2="1361.4" y2="1608.6" stroke="#111" stroke-width="4.8"/>
<line x1="1409.7" y1="1592.8" x2="1409.7" y2="1608.6" stroke="#111" stroke-width="4.8"/>
<line x1="1458.0" y1="1592.8" x2="1458.0" y2="1608.6" stroke="#111" stroke-width="4.8"/>
<line x1="1506.3" y1="1592.8" x2="1506.3" y2="1608.6" stroke="#111" stroke-width="4.8"/>
<line x1="1554.6" y1="1592.8" x2="1554.6" y2="1621.6" stroke="#111" stroke-width="4.8"/>
<text class="b" x="1554.6" y="1679" font-size="52" text-anchor="middle">1000</text>
<line x1="1602.9" y1="1592.8" x2="1602.9" y2="1608.6" stroke="#111" stroke-width="4.8"/>
<line x1="1651.3" y1="1592.8" x2="1651.3" y2="1608.6" stroke="#111" stroke-width="4.8"/>
<line x1="1699.6" y1="1592.8" x2="1699.6" y2="1608.6" stroke="#111" stroke-width="4.8"/>
<line x1="1747.9" y1="1592.8" x2="1747.9" y2="1608.6" stroke="#111" stroke-width="4.8"/>
<line x1="1796.2" y1="1592.8" x2="1796.2" y2="1621.6" stroke="#111" stroke-width="4.8"/>
<text class="b" x="1796.2" y="1679" font-size="52" text-anchor="middle">500</text>
<text class="b" x="658.5" y="1800" font-size="66">Wave number [cm</text>
<text class="b" x="1190" y="1762.5" font-size="34">-1</text>
<text class="b" x="1225" y="1800" font-size="66">]</text>
<text class="b" x="407.8" y="133" font-size="52" text-anchor="middle">OH</text>
<text class="b" x="405" y="212.5" font-size="52" text-anchor="middle">stretching</text>
<text class="b" x="675" y="126.5" font-size="52" text-anchor="middle">C-H</text>
<text class="b" x="655.8" y="204.5" font-size="52" text-anchor="middle">stretching</text>
<text class="b" x="1470" y="79" font-size="52" text-anchor="middle">C-O-C</text>
<text class="b" x="1482.4" y="159.5" font-size="52" text-anchor="middle">cellulose</text>
<text class="b" x="1292.2" y="145.5" font-size="52" text-anchor="middle">CH</text>
<text class="b" x="1294.6" y="226.5" font-size="52" text-anchor="middle">cellulose</text>
<text class="b" x="1707.1" y="145.5" font-size="52" text-anchor="middle">CH</text>
<text class="b" x="1709.4" y="226.5" font-size="52" text-anchor="middle">cellulose</text>
<text x="138.3" y="370.5" font-size="41.8">Sample C</text>
<text x="137.9" y="597.5" font-size="41.8">Sample B</text>
<text x="140.3" y="842.5" font-size="41.8">Sample D</text>
<text x="143.9" y="1061.5" font-size="41.8">Sample E</text>
<text x="137.9" y="1265.5" font-size="41.8">Sample A</text>
</svg></body></html>
